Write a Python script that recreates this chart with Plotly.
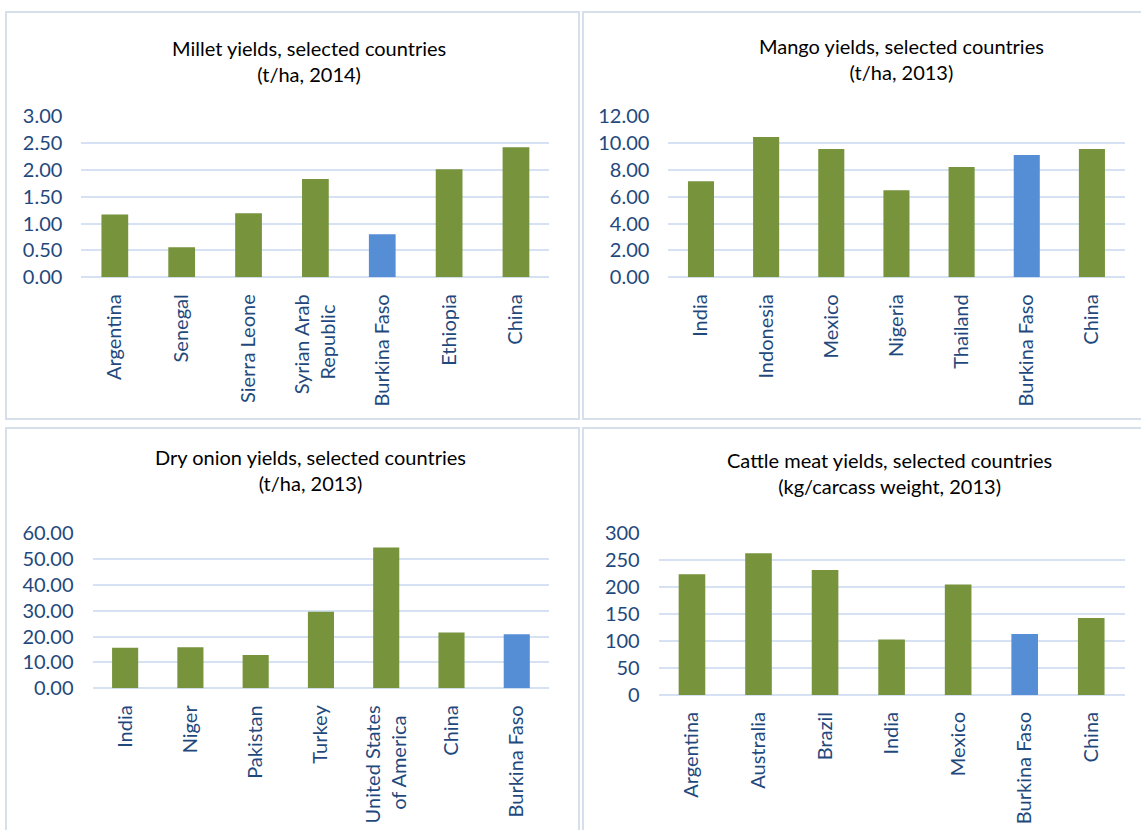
import plotly.graph_objects as go

W, H = 1141, 830

GREEN = "#77933C"
BLUE = "#558ED5"
GRID = "#D6E2F3"
TICK_COLOR = "#1F497D"
FONT = "Lato"

# ---- data ----
millet_countries = ["Argentina", "Senegal", "Sierra Leone", "Syrian Arab<br>Republic",
                    "Burkina Faso", "Ethiopia", "China"]
millet_values = [1.17, 0.56, 1.19, 1.83, 0.80, 2.01, 2.42]
millet_ticks = [0, 0.5, 1.0, 1.5, 2.0, 2.5, 3.0]

mango_countries = ["India", "Indonesia", "Mexico", "Nigeria", "Thailand",
                   "Burkina Faso", "China"]
mango_values = [7.15, 10.43, 9.54, 6.48, 8.20, 9.09, 9.55]
mango_ticks = [0, 2, 4, 6, 8, 10, 12]

onion_countries = ["India", "Niger", "Pakistan", "Turkey", "United States<br>of America",
                   "China", "Burkina Faso"]
onion_values = [15.7, 15.9, 12.9, 29.6, 54.4, 21.6, 20.9]
onion_ticks = [0, 10, 20, 30, 40, 50, 60]

cattle_countries = ["Argentina", "Australia", "Brazil", "India", "Mexico",
                    "Burkina Faso", "China"]
cattle_values = [224, 263, 232, 103, 205, 113, 143]
cattle_ticks = [0, 50, 100, 150, 200, 250, 300]

titles = [
    "Millet yields, selected countries<br>(t/ha, 2014)",
    "Mango yields, selected countries<br>(t/ha, 2013)",
    "Dry onion yields, selected countries<br>(t/ha, 2013)",
    "Cattle meat yields, selected countries<br>(kg/carcass weight, 2013)",
]


def centered_label(label):
    """Pad shorter lines of a multi-line tick label so the lines look centred
    (tick labels are end-anchored when rotated)."""
    lines = label.split("<br>")
    if len(lines) == 1:
        return label
    longest = max(len(l) for l in lines)
    out = []
    for l in lines:
        pad = max(0, round((longest - len(l)) * 0.6))
        out.append(l + "\u00a0" * pad)
    return "<br>".join(out)


# ---- layout geometry (pixels) ----
panels = [
    (millet_countries, millet_values, millet_ticks, ".2f", 81.4, 549.4, 116, 277.3, 309, 61, (6, 12, 579, 419)),
    (mango_countries, mango_values, mango_ticks, ".2f", 668.4, 1124.5, 116, 277.3, 901, 59, (583, 12, 1150, 419)),
    (onion_countries, onion_values, onion_ticks, ".2f", 92.5, 549.4, 533, 688.3, 310, 470, (6, 428, 579, 840)),
    (cattle_countries, cattle_values, cattle_ticks, "d", 658.7, 1124.5, 533.3, 695, 889, 473, (583, 428, 1150, 840)),
]

fig = go.Figure()
shapes = []
annotations = []

for i, (cats, vals, ticks, fmt, x0, x1, yt, yb, tcx, tcy, border) in enumerate(panels):
    n = i + 1
    xa = "x" if n == 1 else f"x{n}"
    ya = "y" if n == 1 else f"y{n}"
    colors = [BLUE if c == "Burkina Faso" else GREEN for c in cats]
    fig.add_trace(go.Bar(
        x=cats, y=vals, marker=dict(color=colors, line=dict(width=0)),
        xaxis=xa, yaxis=ya, showlegend=False, width=0.4,
    ))
    xkey = "xaxis" if n == 1 else f"xaxis{n}"
    ykey = "yaxis" if n == 1 else f"yaxis{n}"
    fig.layout[xkey] = dict(
        domain=[x0 / W, x1 / W], anchor=ya, tickangle=-90,
        tickvals=cats, ticktext=[centered_label(c) for c in cats],
        tickfont=dict(family=FONT, size=20, color=TICK_COLOR),
        showgrid=False, showline=False, ticks="", ticklabelstandoff=12,
        fixedrange=True, automargin=False,
    )
    if fmt == "d":
        texts = [str(t) for t in ticks]
    else:
        texts = [f"{t:.2f}" for t in ticks]
    fig.layout[ykey] = dict(
        domain=[1 - yb / H, 1 - yt / H], anchor=xa,
        range=[0, ticks[-1]], tickvals=ticks, ticktext=texts,
        tickfont=dict(family=FONT, size=20, color=TICK_COLOR),
        showgrid=True, gridcolor=GRID, gridwidth=2,
        zeroline=True, zerolinecolor=GRID, zerolinewidth=2,
        showline=False, ticks="", ticklabelstandoff=18, fixedrange=True,
        automargin=False,
    )
    annotations.append(dict(
        text=titles[i], x=tcx / W, y=1 - tcy / H, xref="paper", yref="paper",
        xanchor="center", yanchor="middle", showarrow=False, align="center",
        font=dict(family=FONT, size=20, color="#000000"),
    ))
    bx0, by0, bx1, by1 = border
    shapes.append(dict(
        type="rect", xref="paper", yref="paper",
        x0=bx0 / W, x1=bx1 / W, y0=1 - by1 / H, y1=1 - by0 / H,
        line=dict(color="#D6DFEA", width=2), fillcolor="rgba(0,0,0,0)", layer="below",
    ))

fig.update_layout(
    width=W, height=H,
    margin=dict(l=0, r=0, t=0, b=0, autoexpand=False),
    paper_bgcolor="white", plot_bgcolor="white",
    bargap=0.6,
    shapes=shapes, annotations=annotations,
    font=dict(family=FONT),
)

fig.write_html("out.html", include_plotlyjs=True, config={"displayModeBar": False})
